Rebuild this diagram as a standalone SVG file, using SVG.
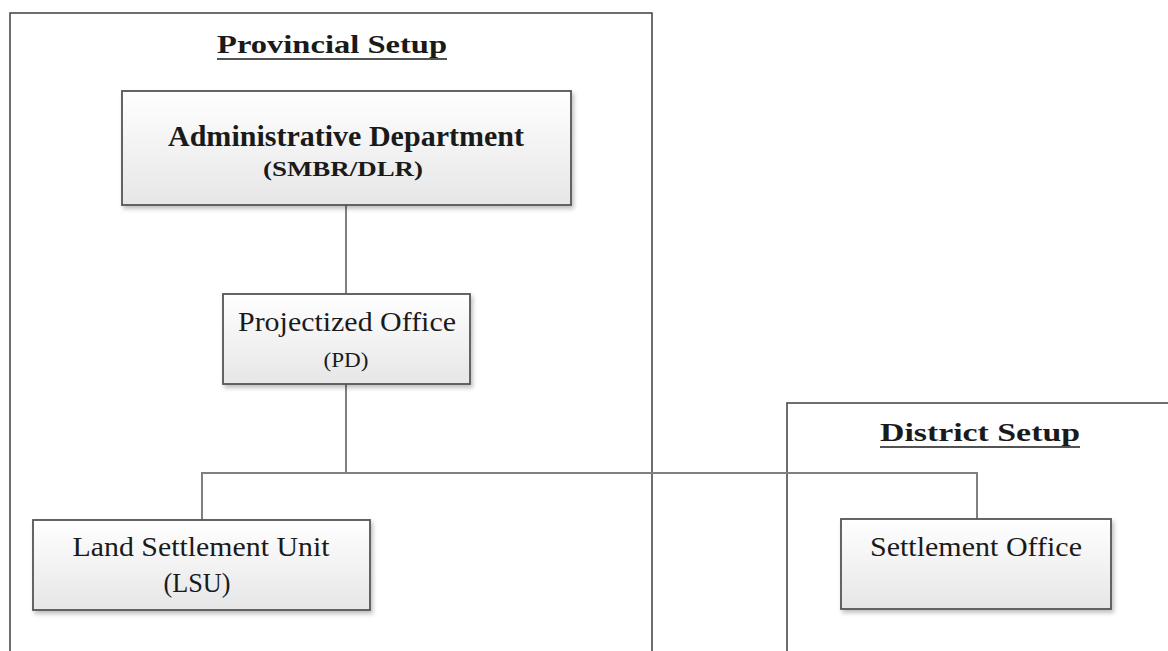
<svg xmlns="http://www.w3.org/2000/svg" width="1168" height="651" viewBox="0 0 1168 651">
<defs>
<linearGradient id="g" x1="0" y1="0" x2="0" y2="1">
<stop offset="0" stop-color="#ffffff"/>
<stop offset="1" stop-color="#e6e6e6"/>
</linearGradient>
<filter id="sh" x="-5%" y="-5%" width="115%" height="125%">
<feDropShadow dx="2" dy="3" stdDeviation="2" flood-color="#000" flood-opacity="0.25"/>
</filter>
<style>
.cont{fill:none;stroke:#4a4a4a;stroke-width:1.6}
.box{fill:url(#g);stroke:#555;stroke-width:1.8;filter:url(#sh)}
.t{fill:#1a1a1a;text-anchor:middle;font-family:'Times New Roman','Liberation Serif',Tinos,'Nimbus Roman',serif}
.b{font-weight:bold}
.ul{stroke:#1a1a1a;stroke-width:1.6}
.ln{fill:none;stroke:#808080;stroke-width:2}
</style>
</defs>
<rect width="1168" height="651" fill="#ffffff"/>
<g id="provincial">
<rect class="cont" x="10" y="13" width="642" height="660"/>
<text class="t b" x="332" y="53" font-size="26" textLength="230" lengthAdjust="spacingAndGlyphs">Provincial Setup</text>
<line class="ul" x1="217" y1="59" x2="447" y2="59"/>
</g>
<g id="district">
<rect class="cont" x="787" y="403" width="420" height="300"/>
<text class="t b" x="980" y="441" font-size="26" textLength="200" lengthAdjust="spacingAndGlyphs">District Setup</text>
<line class="ul" x1="880" y1="447" x2="1080" y2="447"/>
</g>
<g id="connectors">
<line class="ln" x1="346" y1="205" x2="346" y2="294"/>
<line class="ln" x1="346" y1="384" x2="346" y2="473" stroke="#6a6a6a" stroke-width="2.6"/>
<polyline class="ln" points="202,520 202,473 977,473 977,519"/>
</g>
<g id="admin">
<rect class="box" x="122" y="91" width="449" height="114"/>
<text class="t b" x="346" y="146" font-size="29" textLength="356" lengthAdjust="spacingAndGlyphs">Administrative Department</text>
<text class="t b" x="343" y="176" font-size="21" textLength="160" lengthAdjust="spacingAndGlyphs">(SMBR/DLR)</text>
</g>
<g id="pd">
<rect class="box" x="223" y="294" width="247" height="90"/>
<text class="t" x="347" y="331" font-size="27" textLength="218" lengthAdjust="spacingAndGlyphs">Projectized Office</text>
<text class="t" x="346" y="367" font-size="21" textLength="45" lengthAdjust="spacingAndGlyphs">(PD)</text>
</g>
<g id="lsu">
<rect class="box" x="33" y="520" width="337" height="90"/>
<text class="t" x="201" y="556" font-size="27" textLength="257" lengthAdjust="spacingAndGlyphs">Land Settlement Unit</text>
<text class="t" x="197" y="592" font-size="27" textLength="67" lengthAdjust="spacingAndGlyphs">(LSU)</text>
</g>
<g id="settlement">
<rect class="box" x="841" y="519" width="270" height="90"/>
<text class="t" x="976" y="556" font-size="27" textLength="212" lengthAdjust="spacingAndGlyphs">Settlement Office</text>
</g>
</svg>
